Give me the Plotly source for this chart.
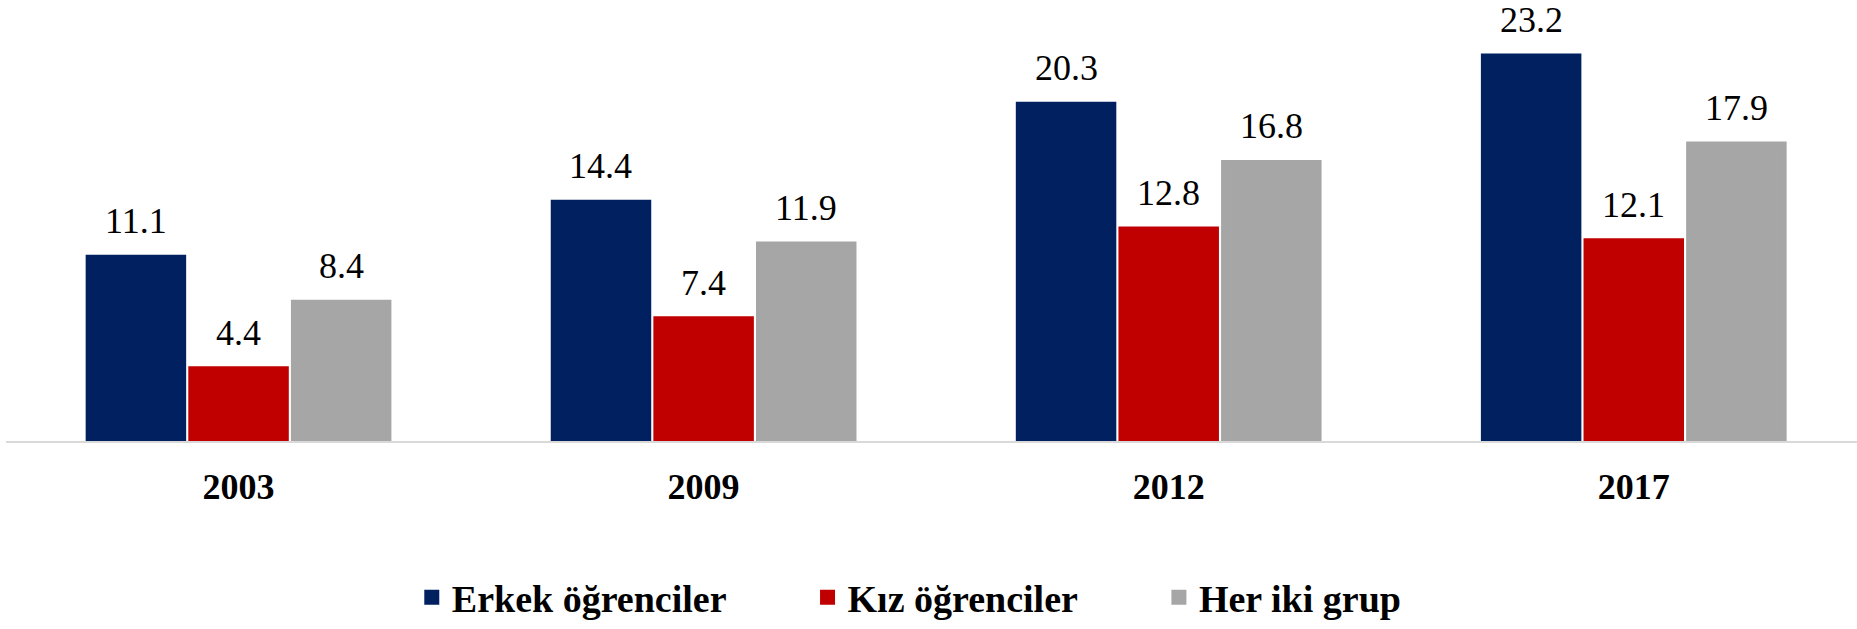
import plotly.graph_objects as go

years = ["2003", "2009", "2012", "2017"]
erkek = [11.1, 14.4, 20.3, 23.2]
kiz = [4.4, 7.4, 12.8, 12.1]
her_iki = [8.4, 11.9, 16.8, 17.9]
series_names = ["Erkek öğrenciler", "Kız öğrenciler", "Her iki grup"]
series_colors = ["#002060", "#C00000", "#A6A6A6"]

FONT = "Liberation Serif, Times New Roman, serif"
BARGAP = 0.338
PAD = "\u00a0" * 8
series = [erkek, kiz, her_iki]

fig = go.Figure()
for k, (name, vals, col) in enumerate(zip(series_names, series, series_colors)):
    label = name + (PAD if k < len(series_names) - 1 else "")
    fig.add_trace(go.Bar(x=list(range(len(years))), y=vals, name=label,
                         marker=dict(color=col, line=dict(width=3, color=col))))

n = len(series)
slot = (1 - BARGAP) / n
for j, vals in enumerate(series):
    for i, v in enumerate(vals):
        fig.add_annotation(x=i + (j - (n - 1) / 2) * slot, y=v, text=f"{v:.1f}",
                           showarrow=False, yanchor="bottom", yshift=13,
                           font=dict(family=FONT, size=36, color="#000000"))

fig.update_layout(
    width=1857, height=629,
    margin=dict(l=6, r=0, t=0, b=188),
    paper_bgcolor="white", plot_bgcolor="white",
    barmode="group", bargap=BARGAP, bargroupgap=0.05,
    font=dict(family=FONT, size=36, color="#000000"),
    xaxis=dict(tickmode="array", tickvals=list(range(len(years))), ticktext=years,
               range=[-0.5, 3.48], showline=True, linecolor="#D9D9D9", linewidth=1.5,
               showgrid=False, zeroline=False, ticks="", automargin=False,
               tickfont=dict(family=FONT, size=36, color="#000000", weight="bold"),
               ticklabelstandoff=13),
    yaxis=dict(range=[0, 26.5], visible=False, showgrid=False, zeroline=False),
    showlegend=True,
    legend=dict(orientation="h", x=0.488, xanchor="center",
                yref="container", y=-0.009, yanchor="bottom",
                font=dict(family=FONT, size=38, color="#000000", weight="bold"),
                itemwidth=30, tracegroupgap=0),
)

fig.write_html("out.html", config={"displayModeBar": False},
               post_script="document.body.style.margin='0';document.body.style.overflow='hidden';")
